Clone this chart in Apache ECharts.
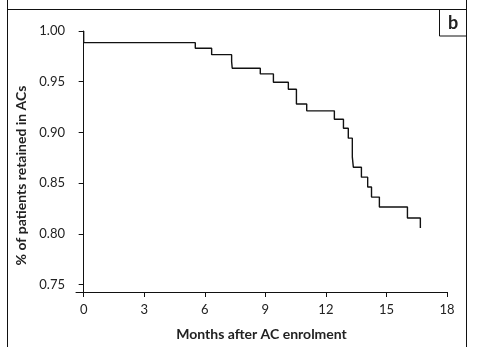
<!DOCTYPE html>
<html>
<head>
<meta charset="utf-8">
<script src="https://cdn.jsdelivr.net/npm/echarts@6/dist/echarts.min.js"></script>
<style>
  html, body { margin: 0; padding: 0; background: #fff; }
  #chart { width: 483px; height: 347px; }
</style>
</head>
<body>
<div id="chart"></div>
<script>
// event times (months) and retention after each step
const months = [0, 0, 5.53, 6.34, 7.33, 7.36, 8.75, 9.40, 10.14, 10.54, 11.05, 12.42, 12.87, 13.11, 13.31, 13.36, 13.76, 14.07, 14.26, 14.65, 16.04, 16.68];
const retained = [1.00, 0.9885, 0.983, 0.9767, 0.9698, 0.9633, 0.9577, 0.9495, 0.9426, 0.9281, 0.9213, 0.9131, 0.9042, 0.8944, 0.8757, 0.8658, 0.856, 0.8462, 0.8363, 0.8265, 0.8157, 0.8058];

const xTicks = [0, 3, 6, 9, 12, 15, 18];
const yTicks = [0.75, 0.80, 0.85, 0.90, 0.95, 1.00];

const fontFam = 'Lato';

const initChart = () => {
    const myChart = echarts.init(document.getElementById('chart'));

    const pts = months.map((m, i) => [m, retained[i]]);

    myChart.setOption({
        animation: false,
        backgroundColor: '#fff',
        grid: { left: 76, right: 36, top: 31, bottom: 55, containLabel: false, outerBoundsMode: 'none' },
        xAxis: {
            type: 'value',
            min: -0.38,
            max: 18,
            name: 'Months after AC enrolment',
            nameLocation: 'middle',
            nameGap: 35,
            nameTextStyle: { fontFamily: fontFam, fontWeight: 'bold', fontSize: 14, color: '#222' },
            axisLine: { show: true, lineStyle: { color: '#111', width: 1 } },
            axisTick: { show: true, customValues: xTicks, length: 5, lineStyle: { color: '#111' } },
            axisLabel: { customValues: xTicks, margin: 11, fontFamily: fontFam, fontSize: 13, color: '#222' },
            splitLine: { show: false }
        },
        yAxis: {
            type: 'value',
            min: 0.7428,
            max: 1.0,
            name: '% of patients retained in ACs',
            nameLocation: 'middle',
            nameGap: 48,
            nameRotate: 90,
            nameTextStyle: { fontFamily: fontFam, fontWeight: 'bold', fontSize: 14, color: '#222', padding: [0, 28, 0, 0] },
            axisLine: { show: true, lineStyle: { color: '#111', width: 1 } },
            axisTick: { show: true, customValues: yTicks, length: 5, lineStyle: { color: '#111' } },
            axisLabel: {
                customValues: yTicks, margin: 11, fontFamily: fontFam, fontSize: 13, color: '#222',
                formatter: v => v.toFixed(2)
            },
            splitLine: { show: false }
        },
        series: [{
            type: 'line',
            step: 'end',
            data: pts,
            showSymbol: false,
            lineStyle: { color: '#111', width: 1.4 }
        }],
        graphic: [
            { type: 'line', shape: { x1: 7.5, y1: 0, x2: 7.5, y2: 347 }, style: { stroke: '#111', lineWidth: 1 } },
            { type: 'line', shape: { x1: 466.5, y1: 0, x2: 466.5, y2: 347 }, style: { stroke: '#111', lineWidth: 1 } },
            { type: 'line', shape: { x1: 7.5, y1: 9.5, x2: 466.5, y2: 9.5 }, style: { stroke: '#111', lineWidth: 1 } },
            { type: 'rect', shape: { x: 439.5, y: 9.5, width: 27, height: 26.5 }, style: { fill: 'none', stroke: '#111', lineWidth: 1 } },
            { type: 'text', x: 453, y: 23, style: { text: 'b', fontFamily: fontFam, fontWeight: 'bold', fontSize: 18, fill: '#222', align: 'center', verticalAlign: 'middle' } }
        ]
    });

    myChart.resize();
};

window.addEventListener('load', () => {
    initChart();
});
</script>
</body>
</html>
